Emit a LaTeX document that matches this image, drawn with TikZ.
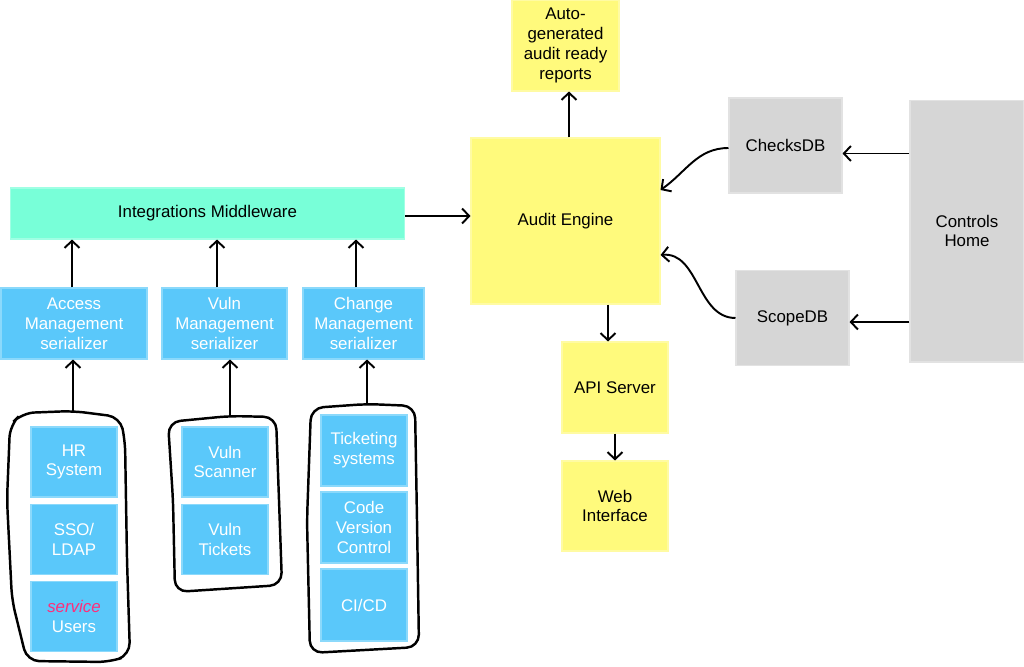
\documentclass[tikz,border=0pt]{standalone}
\usepackage{fontspec}
\setsansfont{Liberation Sans}
\usetikzlibrary{arrows.meta, positioning}
\definecolor{cblue}{HTML}{5AC8FA}
\definecolor{cmint}{HTML}{78FFD8}
\definecolor{cyellow}{HTML}{FFFA7C}
\definecolor{cgrey}{HTML}{D6D6D6}
\definecolor{cpink}{HTML}{FF2D7A}
\tikzset{
  every picture/.style={font={\sffamily\fontsize{9.6pt}{11.3pt}\selectfont}, line width=1.1pt},
  box/.style={draw=#1!70!white, line width=0.6pt, fill=#1, align=center, inner sep=2pt},
  box/.default=cgrey,
  srcbox/.style={box=cblue, text=white, minimum width=1.72cm, minimum height=1.4cm},
  serbox/.style={box=cblue, text=white, minimum height=1.42cm},
  arrow/.style={-{Straight Barb[length=4pt, width=8.5pt]}, draw=black, line width=1.1pt},
  group/.style={draw=black, line width=1.4pt, rounded corners=7pt},
}

\begin{document}
\begin{tikzpicture}[x=0.02cm, y=-0.02cm]
  \useasboundingbox (0,0) rectangle (1024,666);
  % ---- audit side
  \node[box=cyellow, minimum width=2.14cm, minimum height=1.82cm] (reports) at (565.5,45.5) {Auto-\\generated\\audit ready\\reports};
  \node[box=cyellow, minimum width=3.78cm, minimum height=3.32cm] (audit) at (565.5,221) {Audit Engine};
  \node[box=cyellow, minimum width=2.12cm, minimum height=1.82cm] (api) at (615,387.5) {API Server};
  \node[box=cyellow, minimum width=2.12cm, minimum height=1.8cm] (web) at (615,506) {Web\\Interface};
  \node[box, minimum width=2.26cm, minimum height=1.9cm] (checks) at (785.5,145.5) {ChecksDB};
  \node[box, minimum width=2.26cm, minimum height=1.9cm] (scope) at (792.5,318) {ScopeDB};
  \node[box, minimum width=2.28cm, minimum height=5.24cm] (controls) at (967,231) {Controls\\Home};
  % ---- integrations
  \node[box=cmint, minimum width=7.9cm, minimum height=1.02cm] (mw) at (207.5,213.5) {Integrations Middleware};
  \node[serbox, minimum width=2.92cm] (access) at (74,323.5) {Access\\Management\\serializer};
  \node[serbox, minimum width=2.5cm] (vulnm) at (224.5,323.5) {Vuln\\Management\\serializer};
  \node[serbox, minimum width=2.42cm] (change) at (363.5,323.5) {Change\\Management\\serializer};
  % ---- sources
  \node[srcbox] (hr) at (74,462) {HR\\System};
  \node[srcbox] (sso) at (74,539.5) {SSO/\\LDAP};
  \node[srcbox] (users) at (74,616.5) {{\color{cpink}\itshape service}\\Users};
  \node[srcbox] (scanner) at (225,462) {Vuln\\Scanner};
  \node[srcbox] (tickets) at (225,539.5) {Vuln\\Tickets};
  \node[srcbox, minimum height=1.42cm] (ticketing) at (364,450.5) {Ticketing\\systems};
  \node[srcbox, minimum height=1.42cm] (code) at (364,527.5) {Code\\Version\\Control};
  \node[srcbox, minimum height=1.44cm] (cicd) at (364,605) {CI/CD};
  % ---- hand drawn groups
  \draw[group] (22,413) -- (73,411) -- (120,417) -- (125,440) -- (127,560) -- (130,655) -- (110,662) -- (27,661) -- (12,600) -- (7,500) -- (10,425) -- cycle;
  \draw[group] (168,422) -- (230,416) -- (276,417) -- (279,500) -- (282,585) -- (175,592) -- (173,500) -- cycle;
  \draw[group] (311,408) -- (367,404) -- (415,406) -- (417,520) -- (419,647) -- (310,653) -- (307,520) -- cycle;
  \coordinate (gacc) at (73,411);
  \coordinate (gvuln) at (230,416);
  \coordinate (gchg) at (367,404);
  % ---- connectors
  \draw[arrow] (gacc) -- (gacc |- access.south);
  \draw[arrow] (gvuln) -- (gvuln |- vulnm.south);
  \draw[arrow] (gchg) -- (gchg |- change.south);
  \draw[arrow] ([xshift=-0.04cm]access.north) -- ([xshift=-0.04cm]access.north |- mw.south);
  \draw[arrow] ([xshift=-0.15cm]vulnm.north) -- ([xshift=-0.15cm]vulnm.north |- mw.south);
  \draw[arrow] ([xshift=-0.15cm]change.north) -- ([xshift=-0.15cm]change.north |- mw.south);
  \draw[arrow] ([yshift=-0.05cm]mw.east) -- ([yshift=-0.05cm]mw.east -| audit.west);
  \draw[arrow] ([xshift=0.07cm]audit.north) -- ([xshift=0.07cm]reports.south);
  \draw[arrow] ([xshift=-0.14cm]api.north |- audit.south) -- ([xshift=-0.14cm]api.north);
  \draw[arrow] (api) -- (web);
  \draw[arrow] ([yshift=-0.05cm]checks.west) to[out=180, in=35] ([yshift=0.62cm]audit.east);
  \draw[arrow] (scope.west) to[out=180, in=5] ([yshift=-0.68cm]audit.east);
  \draw[arrow] ([yshift=-0.16cm]controls.west |- checks) -- ([yshift=-0.16cm]checks.east);
  \draw[arrow] ([yshift=-0.08cm]controls.west |- scope) -- ([yshift=-0.08cm]scope.east);
\end{tikzpicture}
\end{document}
